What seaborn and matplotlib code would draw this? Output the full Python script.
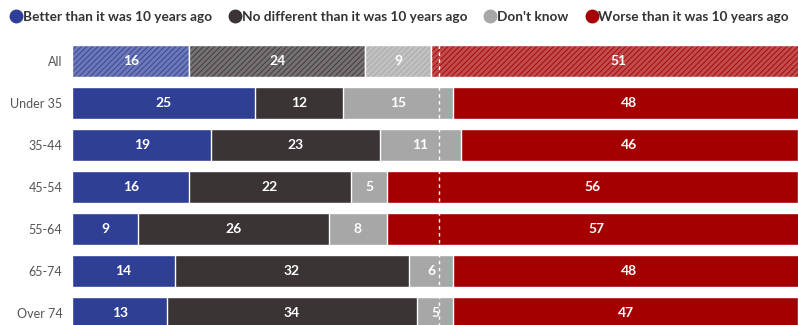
import numpy as np
import pandas as pd
import matplotlib.pyplot as plt
import seaborn as sns
from matplotlib.lines import Line2D
from matplotlib.patches import Rectangle
from matplotlib.colors import to_rgb

# Данные
groups = ['All', 'Under 35', '35-44', '45-54', '55-64', '65-74', 'Over 74']
better = [16, 25, 19, 16, 9, 14, 13]
no_diff = [24, 12, 23, 22, 26, 32, 34]
dont_know = [9, 15, 11, 5, 8, 6, 5]
worse = [51, 48, 46, 56, 57, 48, 47]

series = ['Better than it was 10 years ago', 'No different than it was 10 years ago',
          "Don't know", 'Worse than it was 10 years ago']
colors = ['#2f3f96', '#3a3435', '#a7a7a7', '#a50000']

df = pd.DataFrame({'group': groups, series[0]: better, series[1]: no_diff,
                   series[2]: dont_know, series[3]: worse})
cum = df[series].cumsum(axis=1)

sns.set_theme(style='white')
plt.rcParams['font.family'] = ['Lato', 'DejaVu Sans']
plt.rcParams['hatch.linewidth'] = 0.6

fig = plt.figure(figsize=(7.98, 3.25), dpi=100)
ax = fig.add_axes([72 / 798, 0, 1 - 72 / 798, 1])

# накопленные суммы рисуем от большей к меньшей
for s, c in reversed(list(zip(series, colors))):
    sns.barplot(x=cum[s], y=df['group'], orient='h', color=c, width=0.78,
                edgecolor='white', linewidth=1, saturation=1, ax=ax)

# штриховка для строки "All"
for s, c in zip(series, colors):
    left = cum[s][0] - df[s][0]
    base = np.array(to_rgb(c))
    light = base + (1 - base) * 0.3
    ax.add_patch(Rectangle((left, -0.39), df[s][0], 0.78, facecolor=light,
                           edgecolor=c, hatch='//////', linewidth=0, zorder=3))
    ax.add_patch(Rectangle((left, -0.39), df[s][0], 0.78, fill=False,
                           edgecolor='white', linewidth=1, zorder=3))

# подписи значений
for i in range(len(groups)):
    for s in series:
        v = df[s][i]
        x = cum[s][i] - v / 2
        ax.text(x, i, str(v), ha='center', va='center', color='white',
                fontsize=10, fontweight='bold', zorder=5)

ax.plot([50, 50], [-0.39, 6.4], color='white', linestyle=(0, (2.5, 2.5)),
        linewidth=1, zorder=4)

ax.set_xlim(0, 99)
ax.set_ylim(6.286, -1.452)
ax.set_xlabel('')
ax.set_ylabel('')
ax.set_xticks([])
ax.tick_params(axis='y', length=0, pad=7, labelsize=9, labelcolor='#555555')
sns.despine(ax=ax, left=True, bottom=True)

handles = [Line2D([], [], marker='o', linestyle='', markersize=9, color=c) for c in colors]
fig.legend(handles, series, loc='upper left', bbox_to_anchor=(-0.003, 1.005), ncol=4,
           frameon=False, handletextpad=0.05, columnspacing=1.25, handlelength=0.9,
           prop={'size': 9.8, 'weight': 'bold'}, labelcolor='#333333')

fig.savefig('out.png', dpi=100)
